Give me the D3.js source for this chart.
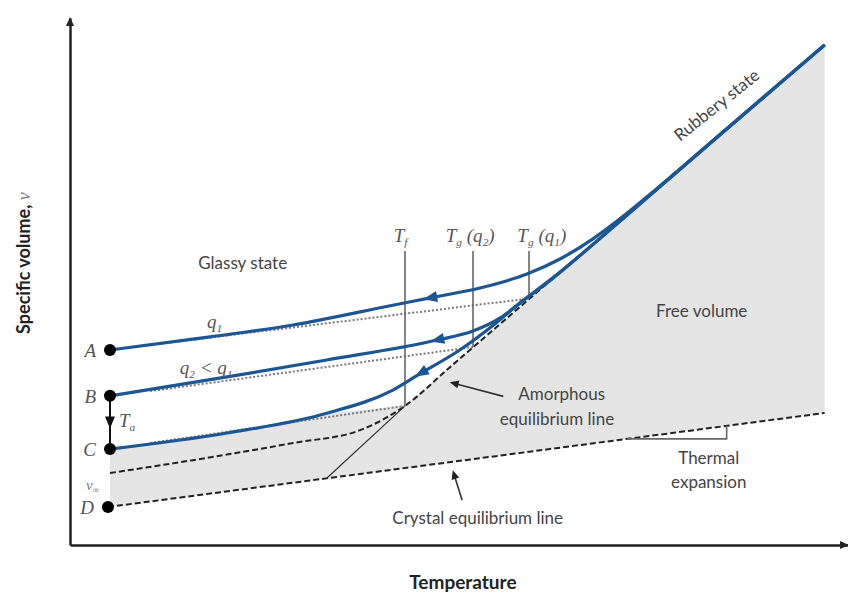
<!DOCTYPE html>
<html><head><meta charset="utf-8">
<script src="https://cdn.jsdelivr.net/npm/d3@7"></script>
<style>body{margin:0;background:#fff} svg{display:block}</style>
</head><body><svg id="c" width="848" height="594"></svg>
<script>
// ---- data: [temperature, specific volume] in arbitrary units ----
const curveA = [[5.14,37.0],[18.0,39.5],[28.7,41.75],[41.5,45.5],[46.3,46.9],[52.7,48.77],[58.74,51.42],[62.98,54.27],[67.22,58.1],[70.69,61.9],[75.8,68.1],[83.5,77.8],[97.0,94.9]];
const curveB = [[5.14,28.3],[20.2,31.9],[33.0,35.1],[47.2,38.9],[51.8,40.6],[55.3,43.1],[58.7,46.9],[63.0,51.8],[70.7,61.5],[83.5,77.8],[97.0,94.9]];
const curveC = [[5.14,18.2],[20.2,21.25],[33.0,25.0],[41.5,29.4],[45.1,32.6],[50.1,37.0],[54.4,41.7],[57.8,45.9],[61.3,49.7],[65.6,55.0],[83.5,77.8],[97.0,94.9]];
const amorphousLine = [[5.14,13.66],[15.8,16.1],[28.66,19.35],[37.3,21.8],[43.06,26.4],[48.8,33.7],[97.0,94.9]];
const crystalLine = [[4.88,7.21],[97.0,25.05]];
const extrapolation = [[33.03,12.71],[43.06,26.4]];
const glassQ1 = [[10.3,37.95],[59.0,46.77]];
const glassQ2 = [[10.3,29.2],[51.8,37.57]];
const glassTf = [[10.3,19.35],[43.06,26.4]];
const transitionT = [43.06, 51.8, 59.0];
const transitionV = [26.4, 37.57, 46.77];
const transitionTop = 55.8;
const arrowT = [46.3, 47.2, 45.1];
const stateNames = ["A","B","C","D"];
const statePoints = [[5.14,37.0],[5.14,28.3],[5.14,18.2],[4.88,7.21]];

const svg = d3.select('#c');
const x = d3.scaleLinear().domain([0,100]).range([70,848]);
const y = d3.scaleLinear().domain([0,100]).range([545,18]);
const line = d3.line().x(d=>x(d[0])).y(d=>y(d[1]));
const smooth = d3.line().x(d=>x(d[0])).y(d=>y(d[1])).curve(d3.curveMonotoneX);
const SANS = 'Lato, "Open Sans", sans-serif';
const SERIF = '"Liberation Serif", "DejaVu Serif", serif';
const TXT = '#444';
const BLUE = '#1d5694';

// gray free-volume region
const crystalAt = t => crystalLine[0][1] + (t-crystalLine[0][0])*(crystalLine[1][1]-crystalLine[0][1])/(crystalLine[1][0]-crystalLine[0][0]);
const region = [...curveC.slice(0,3), [transitionT[0], transitionV[0]], amorphousLine[amorphousLine.length-1],
  crystalLine[1], [curveC[0][0], crystalAt(curveC[0][0])]];
svg.append('path').attr('d', line(region)+'Z').attr('fill','#e5e5e5').attr('stroke','none');

// axes
svg.append('g').attr('transform',`translate(0,${y(0)})`).call(d3.axisBottom(x).tickValues([]).tickSizeOuter(0));
svg.append('g').attr('transform',`translate(${x(0)},0)`).call(d3.axisLeft(y).tickValues([]).tickSizeOuter(0));
svg.selectAll('.domain').attr('stroke','#222').attr('stroke-width',2.5);
svg.append('path').attr('d',`M${x(0)-4},${y(100)+8}L${x(0)},${y(100)-1}L${x(0)+4},${y(100)+8}Z`).attr('fill','#222');
svg.append('path').attr('d',`M${x(100)-8},${y(0)-4}L${x(100)+1},${y(0)}L${x(100)-8},${y(0)+4}Z`).attr('fill','#222');

// dashed equilibrium lines
svg.append('path').attr('d', line(crystalLine)).attr('fill','none').attr('stroke','#222').attr('stroke-width',2).attr('stroke-dasharray','6,3');
svg.append('path').attr('d', smooth(amorphousLine)).attr('fill','none').attr('stroke','#222').attr('stroke-width',2).attr('stroke-dasharray','6,3');
svg.append('path').attr('d', line(extrapolation)).attr('fill','none').attr('stroke','#333').attr('stroke-width',1.2);

// glass dotted lines
[glassQ1, glassQ2, glassTf].forEach(g => svg.append('path').attr('d', line(g)).attr('fill','none')
  .attr('stroke','#7a7a7a').attr('stroke-width',2).attr('stroke-dasharray','2,2'));

// vertical transition markers
transitionT.forEach((t,i) => svg.append('line').attr('x1',x(t)).attr('x2',x(t)).attr('y1',y(transitionTop)).attr('y2',y(transitionV[i]))
  .attr('stroke','#666').attr('stroke-width',1.6));

// blue cooling curves
const curves = [curveA, curveB, curveC];
curves.forEach((c,i) => {
  const p = svg.append('path').attr('d', smooth(c)).attr('fill','none').attr('stroke',BLUE).attr('stroke-width',3.2);
  const node = p.node(); const L = node.getTotalLength();
  let lo=0, hi=L, px=x(arrowT[i]);
  for (let k=0;k<40;k++){ const m=(lo+hi)/2; if (node.getPointAtLength(m).x<px) lo=m; else hi=m; }
  const a = node.getPointAtLength(lo), b = node.getPointAtLength(Math.max(0,lo-3)), f = node.getPointAtLength(Math.min(L,lo+3));
  let dx=b.x-f.x, dy=b.y-f.y; const n=Math.hypot(dx,dy); dx/=n; dy/=n;
  const tip=[a.x+dx*7,a.y+dy*7], base=[a.x-dx*7,a.y-dy*7];
  svg.append('path').attr('d',`M${tip}L${base[0]-dy*5.5},${base[1]+dx*5.5}L${base[0]+dy*5.5},${base[1]-dx*5.5}Z`).attr('fill',BLUE);
});

// Ta arrow from B to C
svg.append('line').attr('x1',x(statePoints[1][0])).attr('x2',x(statePoints[2][0])).attr('y1',y(statePoints[1][1])).attr('y2',y(statePoints[2][1]))
  .attr('stroke','#111').attr('stroke-width',2);
{ const cx=x(statePoints[1][0]), cy=(y(statePoints[1][1])+y(statePoints[2][1]))/2+3;
  svg.append('path').attr('d',`M${cx-5},${cy-9}L${cx+5},${cy-9}L${cx},${cy+3}Z`).attr('fill','#111'); }

// state points
svg.selectAll('circle.st').data(statePoints).join('circle').attr('class','st')
  .attr('cx',d=>x(d[0])).attr('cy',d=>y(d[1])).attr('r',6).attr('fill','#000');
svg.selectAll('text.st').data(statePoints).join('text').attr('class','st')
  .attr('x',d=>x(d[0])-14).attr('y',d=>y(d[1])+7).attr('text-anchor','end')
  .attr('font-family',SERIF).attr('font-style','italic').attr('font-size',19).attr('fill','#555').text((d,i)=>stateNames[i]);

// helper for text
function txt(t, v, s, opts={}) {
  const e = svg.append('text').attr('x',x(t)).attr('y',y(v)).attr('text-anchor',opts.anchor||'middle')
    .attr('font-family',opts.family||SANS).attr('font-size',opts.size||16).attr('fill',opts.fill||TXT)
    .attr('font-weight',opts.weight||'normal').attr('font-style',opts.style||'normal');
  if (opts.rotate!==undefined) e.attr('transform',`rotate(${opts.rotate},${x(t)},${y(v)})`);
  if (typeof s === 'string') e.text(s); else s(e);
  return e;
}
function sub(e, main, subs){
  subs.forEach(([s,isSub]) => {
    const ts = e.append('tspan').text(s);
    if (isSub) ts.attr('font-size','60%').attr('baseline-shift','-35%');
  });
}

// v-infinity
txt(2.9, 10.4, e=>{ e.append('tspan').text('v'); e.append('tspan').text('∞').attr('font-size','60%').attr('baseline-shift','-35%'); },
  {family:SERIF, style:'italic', size:15, fill:'#777'});
// Ta
txt(6.3, 22.3, e=>sub(e,'',[['T',false],['a',true]]), {family:SERIF, style:'italic', size:19, anchor:'start', fill:'#555'});

// transition labels
txt(41.6, 57.5, e=>sub(e,'',[['T',false],['f',true]]), {family:SERIF, style:'italic', size:19, anchor:'start', fill:'#555'});
txt(48.3, 57.5, e=>sub(e,'',[['T',false],['g',true],[' (q',false],['2',true],[')',false]]), {family:SERIF, style:'italic', size:19, anchor:'start', fill:'#555'});
txt(57.5, 57.5, e=>sub(e,'',[['T',false],['g',true],[' (q',false],['1',true],[')',false]]), {family:SERIF, style:'italic', size:19, anchor:'start', fill:'#555'});

// q labels
txt(18.6, 41.1, e=>sub(e,'',[['q',false],['1',true]]), {family:SERIF, style:'italic', size:19, fill:'#555'});
txt(17.5, 32.5, e=>sub(e,'',[['q',false],['2',true],[' < q',false],['1',true]]), {family:SERIF, style:'italic', size:19, fill:'#555'});

// state/region texts
txt(22.2, 52.4, 'Glassy state', {size:17});
txt(81.2, 43.2, 'Free volume', {size:17});
txt(63.2, 27.5, 'Amorphous', {size:17});
txt(62.6, 22.7, 'equilibrium line', {size:17});
txt(52.4, 4.0, 'Crystal equilibrium line', {size:17});
txt(82.1, 15.4, 'Thermal', {size:17});
txt(82.1, 10.8, 'expansion', {size:17});
txt(83.6, 82.6, 'Rubbery state', {size:17, rotate:-38.5});

// annotation pointer arrows
function pointer(from, to){
  const x1=x(from[0]), y1=y(from[1]), x2=x(to[0]), y2=y(to[1]);
  let dx=x2-x1, dy=y2-y1; const n=Math.hypot(dx,dy); dx/=n; dy/=n;
  svg.append('line').attr('x1',x1).attr('y1',y1).attr('x2',x2-dx*6).attr('y2',y2-dy*6).attr('stroke','#333').attr('stroke-width',1.6);
  const bx=x2-dx*9, by=y2-dy*9;
  svg.append('path').attr('d',`M${x2},${y2}L${bx-dy*4},${by+dx*4}L${bx+dy*4},${by-dx*4}Z`).attr('fill','#222');
}
pointer([55.7, 28.2], [48.8, 30.9]);
pointer([50.4, 8.5], [49.2, 14.2]);

// thermal expansion bracket
const tb0 = 71.6, tb1 = 84.4;
svg.append('path').attr('d', line([[tb0, crystalAt(tb0)], [tb1, crystalAt(tb0)], [tb1, crystalAt(tb1)]]))
  .attr('fill','none').attr('stroke','#666').attr('stroke-width',1.6);

// axis titles
svg.append('text').attr('transform',`translate(30,${y(53.5)}) rotate(-90)`).attr('text-anchor','middle')
  .attr('font-family',SANS).attr('font-weight','bold').attr('font-size',18).attr('fill','#222')
  .call(e=>{ e.append('tspan').text('Specific volume, '); e.append('tspan').text('v').attr('font-family',SERIF).attr('font-style','italic').attr('font-weight','normal').attr('fill','#777'); });
svg.append('text').attr('x',x(50.5)).attr('y',589).attr('text-anchor','middle')
  .attr('font-family',SANS).attr('font-weight','bold').attr('font-size',19).attr('fill','#222').text('Temperature');
</script></body></html>
